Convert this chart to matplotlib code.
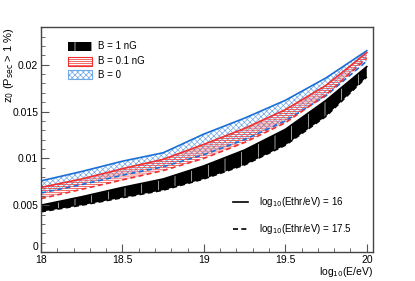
import matplotlib
matplotlib.use("Agg")
import matplotlib.pyplot as plt
import numpy as np
from matplotlib.patches import Rectangle
from matplotlib.lines import Line2D
from matplotlib.ticker import MultipleLocator

plt.rcParams['font.family'] = ['Liberation Sans', 'DejaVu Sans']
plt.rcParams['hatch.linewidth'] = 0.5

energy = [18.0, 18.25, 18.5, 18.75, 19.0, 19.25, 19.5, 19.75, 20.0]
b0_e16 = [0.0076, 0.0086, 0.0097, 0.0106, 0.0126, 0.0143, 0.0162, 0.0186, 0.0215]
b0_e175 = [0.0063, 0.0072, 0.0082, 0.0091, 0.0104, 0.0120, 0.0140, 0.0167, 0.0204]
b01_e16 = [0.0069, 0.0078, 0.0089, 0.0099, 0.0115, 0.0132, 0.0152, 0.0178, 0.0213]
b01_e175 = [0.0057, 0.0067, 0.0077, 0.0087, 0.0100, 0.0117, 0.0138, 0.0168, 0.0207]
b1_e16 = [0.0050, 0.0059, 0.0069, 0.0078, 0.0092, 0.0109, 0.0131, 0.0162, 0.0198]
b1_e175 = [0.0043, 0.0050, 0.0058, 0.0066, 0.0078, 0.0093, 0.0114, 0.0145, 0.0187]

band_labels = ["B = 1 nG", "B = 0.1 nG", "B = 0"]
line_labels = ["log$_{10}$(Ethr/eV) = 16", "log$_{10}$(Ethr/eV) = 17.5"]

blue = '#1a6fd6'
blue_h = '#6fa8e8'
red = '#f03030'

fig = plt.figure(figsize=(4.15, 2.81), dpi=100)
ax = fig.add_axes([0.0988, 0.1032, 0.8007, 0.7996])

# blue band
ax.fill_between(energy, b0_e175, b0_e16, facecolor='none', edgecolor=blue_h, hatch='xxxxxx', linewidth=0)
ax.plot(energy, b0_e16, color=blue, lw=1.2)
ax.plot(energy, b0_e175, color=blue, lw=1.2, ls=(0, (3, 2)))
# red band
ax.fill_between(energy, b01_e175, b01_e16, facecolor='none', edgecolor=red, hatch='--------', linewidth=0)
ax.plot(energy, b01_e16, color=red, lw=1.2)
ax.plot(energy, b01_e175, color=red, lw=1.2, ls=(0, (3, 2)))
# black band
ax.fill_between(energy, b1_e175, b1_e16, facecolor='black', edgecolor='#dddddd', hatch='|', linewidth=0)
ax.plot(energy, b1_e16, color='black', lw=1.2)
ax.plot(energy, b1_e175, color='black', lw=1.2, ls=(0, (3, 2)))

ax.set_xlim(18, 20.04)
ax.set_ylim(0, 0.0240)
ax.xaxis.set_minor_locator(MultipleLocator(0.1))
ax.yaxis.set_minor_locator(MultipleLocator(0.001))
ax.set_xticks([18, 18.5, 19, 19.5, 20])
ax.set_xticklabels(['18', '18.5', '19', '19.5', '20'])
ax.set_yticks([0, 0.005, 0.01, 0.015, 0.02])
ax.set_yticklabels(['0', '0.005', '0.01', '0.015', '0.02'])
ax.tick_params(which='both', direction='in', top=False, right=False, color='#555555', labelsize=7.5)
ax.tick_params(axis='y', pad=2)
ax.tick_params(axis='x', pad=2.5)
ax.tick_params(which='major', length=6)
ax.tick_params(which='minor', length=3)
ax.get_yticklabels()[0].set_verticalalignment('bottom')
for s in ax.spines.values():
    s.set_color('#444444')
    s.set_linewidth(1.0)

# legend 1 (bands)
boxes = [('black', '#dddddd', '|'), ('none', red, '--------'), ('none', blue_h, 'xxxxxx')]
box_edges = [None, red, blue_h]
legend_y = [46, 61, 75]
for lab, yy, (fc, ec, h), be in zip(band_labels, legend_y, boxes, box_edges):
    x0, y0 = 68 / 415, 1 - (yy + 4.5) / 281
    fig.add_artist(Rectangle((x0, y0), 24 / 415, 9 / 281, transform=fig.transFigure,
                             facecolor=fc, edgecolor=ec, hatch=h, lw=0))
    if be is not None:
        fig.add_artist(Rectangle((x0, y0), 24 / 415, 9 / 281, transform=fig.transFigure,
                                 facecolor='none', edgecolor=be, lw=0.8))
    fig.text(98 / 415, 1 - yy / 281, lab, fontsize=7, va='center', ha='left')

# legend 2 (lines)
for yy, ls, lab in zip([202, 229], ['-', (0, (3, 2))], line_labels):
    fig.add_artist(Line2D([233 / 415, 248 / 415], [1 - yy / 281] * 2, transform=fig.transFigure,
                          color='black', lw=1.2, ls=ls))
    fig.text(259 / 415, 1 - yy / 281, lab, fontsize=7, va='center', ha='left')

fig.text(9 / 415, 1 - 27 / 281, 'z$_0$ (P$_{\\rm sec}$ > 1 %)', rotation=90, ha='center', va='top', fontsize=8)
fig.text(373 / 415, 1 - 265 / 281, 'log$_{10}$(E/eV)', ha='right', va='top', fontsize=7.5)

fig.savefig('out.png', dpi=100)
